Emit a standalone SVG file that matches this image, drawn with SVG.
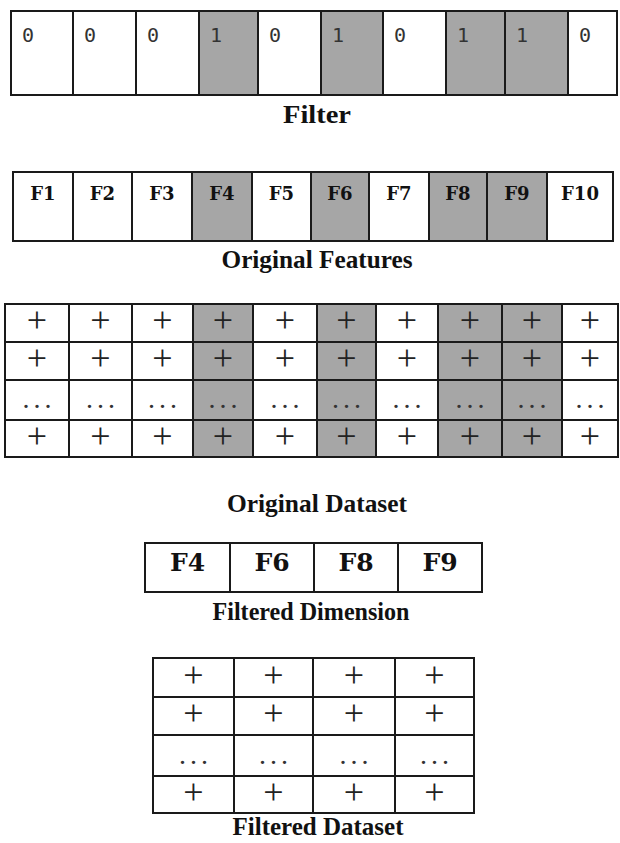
<svg xmlns="http://www.w3.org/2000/svg" width="620" height="843" viewBox="0 0 620 843">
<style>
.c{fill:#ffffff;stroke:#1a1a1a;stroke-width:2}
.s{fill:#a6a6a6;stroke:#1a1a1a;stroke-width:2}
.d{font-family:"DejaVu Sans Mono","Liberation Mono",monospace;font-size:20px;fill:#333}
.f{font-family:"DejaVu Serif",serif;font-weight:bold;font-size:18px;fill:#111;text-anchor:middle}
.fb{font-family:"DejaVu Serif",serif;font-weight:bold;font-size:25px;fill:#111;text-anchor:middle}
.p{font-family:"Liberation Serif",serif;font-size:36px;fill:#222;text-anchor:middle}
.e{font-family:"Liberation Serif",serif;font-size:28px;fill:#333;text-anchor:middle;letter-spacing:4px}
.l{font-family:"Liberation Serif",serif;font-weight:bold;font-size:26px;fill:#111;text-anchor:middle}
</style>
<rect x="0" y="0" width="620" height="843" fill="#ffffff"/>

<g id="filter">
<rect class="c" x="11" y="11" width="62" height="84"/>
<rect class="c" x="73" y="11" width="63" height="84"/>
<rect class="c" x="136" y="11" width="63" height="84"/>
<rect class="s" x="199" y="11" width="59" height="84"/>
<rect class="c" x="258" y="11" width="63" height="84"/>
<rect class="s" x="321" y="11" width="62" height="84"/>
<rect class="c" x="383" y="11" width="63" height="84"/>
<rect class="s" x="446" y="11" width="59" height="84"/>
<rect class="s" x="505" y="11" width="63" height="84"/>
<rect class="c" x="568" y="11" width="49" height="84"/>
<text class="d" x="22" y="42">0</text>
<text class="d" x="84" y="42">0</text>
<text class="d" x="147" y="42">0</text>
<text class="d" x="210" y="42">1</text>
<text class="d" x="269" y="42">0</text>
<text class="d" x="332" y="42">1</text>
<text class="d" x="394" y="42">0</text>
<text class="d" x="457" y="42">1</text>
<text class="d" x="516" y="42">1</text>
<text class="d" x="579" y="42">0</text>
<text class="l" x="317" y="123" textLength="68" lengthAdjust="spacingAndGlyphs">Filter</text>
</g>

<g id="original-features">
<rect class="c" x="13" y="172" width="60" height="69"/>
<rect class="c" x="73" y="172" width="59" height="69"/>
<rect class="c" x="132" y="172" width="60" height="69"/>
<rect class="s" x="192" y="172" width="60" height="69"/>
<rect class="c" x="252" y="172" width="59" height="69"/>
<rect class="s" x="311" y="172" width="58" height="69"/>
<rect class="c" x="369" y="172" width="60" height="69"/>
<rect class="s" x="429" y="172" width="58" height="69"/>
<rect class="s" x="487" y="172" width="60" height="69"/>
<rect class="c" x="547" y="172" width="66" height="69"/>
<text class="f" x="43" y="200">F1</text>
<text class="f" x="102.5" y="200">F2</text>
<text class="f" x="162" y="200">F3</text>
<text class="f" x="222" y="200">F4</text>
<text class="f" x="281.5" y="200">F5</text>
<text class="f" x="340" y="200">F6</text>
<text class="f" x="399" y="200">F7</text>
<text class="f" x="458" y="200">F8</text>
<text class="f" x="517" y="200">F9</text>
<text class="f" x="580" y="200">F10</text>
<text class="l" x="317" y="268" textLength="191" lengthAdjust="spacingAndGlyphs">Original Features</text>
</g>

<g id="original-dataset">
<g>
<rect class="c" x="5" y="304" width="64" height="153"/>
<rect class="c" x="69" y="304" width="63" height="153"/>
<rect class="c" x="132" y="304" width="61" height="153"/>
<rect class="s" x="193" y="304" width="60" height="153"/>
<rect class="c" x="253" y="304" width="64" height="153"/>
<rect class="s" x="317" y="304" width="59" height="153"/>
<rect class="c" x="376" y="304" width="62" height="153"/>
<rect class="s" x="438" y="304" width="64" height="153"/>
<rect class="s" x="502" y="304" width="60" height="153"/>
<rect class="c" x="562" y="304" width="56" height="153"/>
<line x1="5" y1="342" x2="618" y2="342" stroke="#1a1a1a" stroke-width="2"/>
<line x1="5" y1="380" x2="618" y2="380" stroke="#1a1a1a" stroke-width="2"/>
<line x1="5" y1="420" x2="618" y2="420" stroke="#1a1a1a" stroke-width="2"/>
</g>
<g>
<text class="p" x="37" y="332">+</text><text class="p" x="100.5" y="332">+</text><text class="p" x="162.5" y="332">+</text><text class="p" x="223" y="332">+</text><text class="p" x="285" y="332">+</text><text class="p" x="346.5" y="332">+</text><text class="p" x="407" y="332">+</text><text class="p" x="470" y="332">+</text><text class="p" x="532" y="332">+</text><text class="p" x="590" y="332">+</text>
<text class="p" x="37" y="370">+</text><text class="p" x="100.5" y="370">+</text><text class="p" x="162.5" y="370">+</text><text class="p" x="223" y="370">+</text><text class="p" x="285" y="370">+</text><text class="p" x="346.5" y="370">+</text><text class="p" x="407" y="370">+</text><text class="p" x="470" y="370">+</text><text class="p" x="532" y="370">+</text><text class="p" x="590" y="370">+</text>
<text class="e" x="39" y="408">...</text><text class="e" x="102.5" y="408">...</text><text class="e" x="164.5" y="408">...</text><text class="e" x="225" y="408">...</text><text class="e" x="287" y="408">...</text><text class="e" x="348.5" y="408">...</text><text class="e" x="409" y="408">...</text><text class="e" x="472" y="408">...</text><text class="e" x="534" y="408">...</text><text class="e" x="592" y="408">...</text>
<text class="p" x="37" y="447.5">+</text><text class="p" x="100.5" y="447.5">+</text><text class="p" x="162.5" y="447.5">+</text><text class="p" x="223" y="447.5">+</text><text class="p" x="285" y="447.5">+</text><text class="p" x="346.5" y="447.5">+</text><text class="p" x="407" y="447.5">+</text><text class="p" x="470" y="447.5">+</text><text class="p" x="532" y="447.5">+</text><text class="p" x="590" y="447.5">+</text>
</g>
<text class="l" x="317" y="512" textLength="180" lengthAdjust="spacingAndGlyphs">Original Dataset</text>
</g>

<g id="filtered-dimension">
<rect class="c" x="145" y="543" width="85" height="49"/>
<rect class="c" x="230" y="543" width="84" height="49"/>
<rect class="c" x="314" y="543" width="84" height="49"/>
<rect class="c" x="398" y="543" width="84" height="49"/>
<text class="fb" x="187.5" y="571">F4</text>
<text class="fb" x="272" y="571">F6</text>
<text class="fb" x="356" y="571">F8</text>
<text class="fb" x="440" y="571">F9</text>
<text class="l" x="311" y="620" textLength="197" lengthAdjust="spacingAndGlyphs">Filtered Dimension</text>
</g>

<g id="filtered-dataset">
<g>
<rect class="c" x="153" y="658" width="81" height="155"/>
<rect class="c" x="234" y="658" width="79" height="155"/>
<rect class="c" x="313" y="658" width="82" height="155"/>
<rect class="c" x="395" y="658" width="79" height="155"/>
<line x1="153" y1="697" x2="474" y2="697" stroke="#1a1a1a" stroke-width="2"/>
<line x1="153" y1="735" x2="474" y2="735" stroke="#1a1a1a" stroke-width="2"/>
<line x1="153" y1="776" x2="474" y2="776" stroke="#1a1a1a" stroke-width="2"/>
</g>
<g>
<text class="p" x="193.5" y="686.5">+</text><text class="p" x="273.5" y="686.5">+</text><text class="p" x="354" y="686.5">+</text><text class="p" x="434.5" y="686.5">+</text>
<text class="p" x="193.5" y="725">+</text><text class="p" x="273.5" y="725">+</text><text class="p" x="354" y="725">+</text><text class="p" x="434.5" y="725">+</text>
<text class="e" x="195.5" y="763.5">...</text><text class="e" x="275.5" y="763.5">...</text><text class="e" x="356" y="763.5">...</text><text class="e" x="436.5" y="763.5">...</text>
<text class="p" x="193.5" y="803.5">+</text><text class="p" x="273.5" y="803.5">+</text><text class="p" x="354" y="803.5">+</text><text class="p" x="434.5" y="803.5">+</text>
</g>
<text class="l" x="318" y="835" textLength="171" lengthAdjust="spacingAndGlyphs">Filtered Dataset</text>
</g>
</svg>
